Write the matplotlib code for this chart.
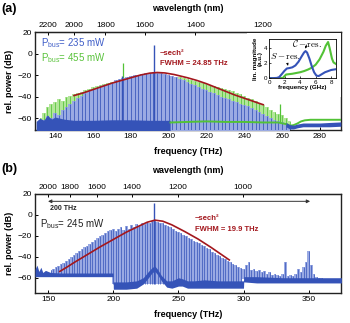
import numpy as np
import matplotlib
matplotlib.use("Agg")
import matplotlib.pyplot as plt
from matplotlib.patches import Rectangle

plt.rcParams['font.family'] = ['Liberation Sans', 'DejaVu Sans']
plt.rcParams['mathtext.fontset'] = 'custom'
plt.rcParams['mathtext.rm'] = 'Liberation Sans'
plt.rcParams['mathtext.it'] = 'Liberation Sans:italic'
plt.rcParams['mathtext.bf'] = 'Liberation Sans:bold'

C_NM_THZ = 299792.458

# ---------------- panel (a): two pump powers ----------------
comb_a_freq = np.arange(132, 266, 2)
blue_a_peak = [-63, -62, -58, -60, -55, -57, -52, -50, -47, -44,
               -41, -39, -37, -35, -33, -32, -30, -29, -28, -27,
               -25, -24, -23, -22, -21, -20, -19.5, -19, -18.5, -18,
               -17.5, -18, -18.5, -19, -20, -21, -22, -23.5, -25, -26.5,
               -28, -29.5, -31, -32.5, -34, -35.5, -37, -38.5, -40, -41,
               -42.5, -44, -45, -46.5, -48, -49, -50.5, -52, -54, -56,
               -58, -60, -62, -63, -64, -65, -66]
green_a_peak = [-60, -55, -50, -47, -45, -42, -44, -40, -39, -38,
                -37, -35.5, -34, -33, -31.5, -30.5, -29.5, -28.5, -27.5, -26.5,
                -25.5, -24.5, -23.5, -22.5, -21.5, -20.5, -19.8, -19.2, -18.7, -18.3,
                -18, -18.2, -18.6, -19.2, -20, -20.8, -21.5, -22.2, -23, -23.8,
                -24.6, -25.4, -26.2, -27, -28, -29, -30, -31, -32, -33,
                -34, -35, -36.5, -38, -39.5, -41, -42.5, -44, -46, -48,
                -50, -52, -54, -56, -57, -60, -63]
blue_a_spike_f = [175.5, 192.5]
blue_a_spike_db = [-21, 7.5]
green_a_spike_f = [176, 259]
green_a_spike_db = [-9, -47]

# noise floors (a)
floor_a_blue_f = [130, 132, 134, 136, 138, 140, 145, 150, 160, 170, 180, 190, 200.8]
floor_a_blue_top = [-63, -60, -62, -57, -61, -59, -61, -62, -62, -61.5, -61.5, -62, -62]
floor_a_right_f = [262, 264, 266, 268, 271, 275, 280, 285, 291]
floor_a_right_top = [-64, -66, -66.5, -65.5, -64.5, -64.5, -64.5, -64, -63.5]
floor_a_right_bot = [-68, -70, -70, -69, -68, -68, -68, -68, -67.5]
floor_a_green_f = [201, 210, 220, 230, 240, 250, 258, 262, 264, 266, 268, 270, 272, 275, 280, 285, 291]
floor_a_green_db = [-64, -63.5, -63, -63.5, -63.5, -64, -64, -65.5, -67, -66.5, -65, -63, -62,
                    -61.5, -61.5, -61.5, -61.5]

# sech^2 fit (a)
fit_a_f = [150, 155, 160, 165, 170, 175, 180, 185, 190, 194, 198, 203, 210, 215, 220, 225,
           230, 235, 240, 245, 250]
fit_a_db = [-39, -36.5, -33.5, -30.5, -27.5, -25, -22.5, -20, -18.2, -17.6, -18, -19.5,
            -22.5, -25, -28, -31.5, -35, -38.5, -41.5, -44.5, -47.5]

# inset: resonance response
inset_blue_f = [0, 0.5, 1, 1.3, 1.6, 2, 2.3, 2.6, 3, 3.4, 3.8, 4.2, 4.5, 4.7, 4.9, 5.2, 5.5,
                5.8, 6.1, 6.4, 6.8, 7.2, 7.6, 8, 8.6]
inset_blue_mag = [0.02, 0.02, 0.05, 0.15, 0.5, 1.0, 1.3, 1.35, 1.45, 1.7, 2.2, 2.9, 3.4, 3.6,
                  3.4, 2.6, 1.6, 0.8, 0.35, 0.3, 0.55, 0.8, 0.95, 1.1, 1.2]
inset_green_f = [0, 1, 1.8, 2.0, 2.2, 2.6, 3, 3.5, 4, 4.5, 5, 5.5, 6, 6.5, 7, 7.3, 7.6, 7.8,
                 8.1, 8.3, 8.6]
inset_green_mag = [0, 0.02, 0.05, 0.3, 0.5, 0.55, 0.6, 0.7, 0.8, 0.95, 1.15, 1.4, 1.8, 2.5,
                   3.5, 4.3, 4.8, 4.0, 2.6, 2.1, 1.9]

# ---------------- panel (b): single pump power ----------------
comb_b_freq = np.arange(152, 374, 2)
blue_b_peak = [-53, -52, -50, -49, -47, -46, -44, -42, -40, -38,
               -36, -34, -33, -31, -30, -28, -26, -24, -22, -20,
               -19, -17, -15, -14, -13, -15, -13, -12, -14, -11,
               -13, -10, -12, -9, -11, -8, -9, -7, -8, -6,
               -6, -7, -8, -8, -10, -11, -12, -13, -15, -16,
               -17, -19, -20, -22, -23, -25, -26, -27, -29, -30,
               -32, -33, -35, -36, -38, -39, -41, -42, -44, -45,
               -47, -48, -50, -51, -52, -48, -45, -53, -52, -54,
               -53, -55, -54, -56, -55, -57, -56, -57, -58, -56,
               -45, -58, -57, -58, -56, -52, -55, -50, -45, -34,
               -48, -56, -59, -60, -60, -61, -61, -61, -61, -61, -61]
pump_b_f = [231.5]
pump_b_db = [11]
base_b_edges = [200, 300]
base_b_levels = [-58, -66, -61]

floor_b_f = [140, 141.5, 143, 144.5, 146, 148, 152, 160, 170, 180, 190, 199.9, 200.1, 210,
             218, 223, 227, 230, 232, 234, 237, 241, 245, 250, 253, 257, 262, 270, 280, 290,
             299.9, 300.1, 310, 320, 330, 340, 350, 360, 375]
floor_b_top = [-52, -48, -54, -50, -55, -53, -55, -55.5, -55.5, -55.5, -55.5, -55.5, -64, -64,
               -63, -60, -54, -50, -49, -52, -58, -63, -63, -60, -61, -63, -63, -62, -63, -63,
               -63, -59, -59, -59.5, -60, -60, -60, -60, -60]
floor_b_bot = [-59, -59, -59, -59, -59, -59, -59, -59, -59, -59, -59, -59, -71, -71,
               -70, -66, -60, -55, -54, -57, -63, -69, -70, -68, -68, -70, -70, -70, -70, -70,
               -70, -64, -65, -65, -65, -65, -65, -65, -65]

fit_b_f = [159, 165, 170, 180, 190, 200, 210, 220, 226, 232, 238, 245, 255, 265, 275, 282, 289]
fit_b_db = [-54, -49.5, -45.5, -38, -30.5, -23.5, -16.5, -10.5, -7, -5, -6, -9.5, -16, -23,
            -31, -37, -43]

BLUE = '#3553b8'
BLUE_LT = '#9aaae3'
GREEN = '#52c236'
GREEN_LT = '#b3e69a'
RED = '#a3171d'


def thz_to_nm(f):
    f = np.asarray(f, dtype=float)
    with np.errstate(divide='ignore'):
        return C_NM_THZ / f


def style_axes(ax, wl_ticks):
    ax.tick_params(direction='in', labelsize=6, length=2.5, width=0.7, pad=2,
                   top=False, right=False)
    for s in ax.spines.values():
        s.set_linewidth(1.0)
        s.set_color('#222222')
    ax.set_xlabel('frequency (THz)', fontsize=6.5, fontweight='bold', labelpad=5)
    ax.set_ylabel('rel. power (dB)', fontsize=6.5, fontweight='bold', labelpad=3)
    ax.set_yticks([20, 0, -20, -40, -60])
    sec = ax.secondary_xaxis('top', functions=(thz_to_nm, thz_to_nm))
    sec.set_xticks(wl_ticks)
    sec.tick_params(direction='in', labelsize=6, length=2.5, width=0.7, pad=2)
    sec.set_xlabel('wavelength (nm)', fontsize=6.5, fontweight='bold', labelpad=8)
    return sec


fig = plt.figure(figsize=(3.5, 3.23), dpi=100)
ax_a = fig.add_axes([0.1, 0.5975, 0.8743, 0.3034])
ax_b = fig.add_axes([0.1, 0.0929, 0.8743, 0.3065])

# ---- panel (a)
ax_a.fill_between(comb_a_freq, -75, green_a_peak, step='mid', color=GREEN_LT, lw=0, zorder=1)
ax_a.vlines(comb_a_freq, -75, green_a_peak, color=GREEN, lw=0.55, zorder=2)
ax_a.vlines(green_a_spike_f, -75, green_a_spike_db, color=GREEN, lw=0.9, zorder=2)
ax_a.fill_between(comb_a_freq, -75, blue_a_peak, step='mid', color=BLUE_LT, lw=0, zorder=3)
ax_a.vlines(comb_a_freq, -75, blue_a_peak, color=BLUE, lw=0.55, zorder=4)
ax_a.vlines(blue_a_spike_f, -75, blue_a_spike_db, color=BLUE, lw=1.0, zorder=4)
ax_a.fill_between(floor_a_blue_f, -75, floor_a_blue_top, color=BLUE, lw=0, zorder=5)
ax_a.plot(floor_a_green_f, floor_a_green_db, color=GREEN, lw=1.4, zorder=5)
ax_a.fill_between(floor_a_right_f, floor_a_right_bot, floor_a_right_top, color=BLUE, lw=0, zorder=6)
ax_a.plot(fit_a_f, fit_a_db, color=RED, lw=1.2, zorder=7)
ax_a.set_xlim(129.4, 291.1)
ax_a.set_ylim(-71, 20)
ax_a.set_xticks([140, 160, 180, 200, 220, 240, 260, 280])
style_axes(ax_a, [2200, 2000, 1800, 1600, 1400, 1200])

ax_a.text(132.5, 10, r'P$_{\mathrm{bus}}$= 235 mW', color='#3d5cc7', fontsize=7, va='center', zorder=8)
ax_a.text(132.5, -4.5, r'P$_{\mathrm{bus}}$= 455 mW', color='#58c23a', fontsize=7, va='center', zorder=8)
ax_a.text(195.5, 0.5, '~sech²', color=RED, fontsize=5.5, fontweight='bold', va='center', zorder=8)
ax_a.text(195.5, -9.2, 'FWHM = 24.85 THz', color=RED, fontsize=5.5, fontweight='bold',
          va='center', zorder=8)

# white box behind inset
ax_a.add_patch(Rectangle((0.705, 0.7006), 0.268, 0.197, transform=fig.transFigure,
                         facecolor='white', edgecolor='none', zorder=9))

ax_in = fig.add_axes([0.7686, 0.7576, 0.191, 0.1217])
ax_in.plot(inset_green_f, inset_green_mag, color=GREEN, lw=1.5)
ax_in.plot(inset_blue_f, inset_blue_mag, color=BLUE, lw=1.5)
ax_in.set_xlim(0, 8.6)
ax_in.set_ylim(0, 5.2)
ax_in.set_xticks([0, 2, 4, 6, 8])
ax_in.set_yticks([0, 2, 4])
ax_in.tick_params(direction='in', labelsize=4.5, length=1.5, width=0.5, pad=1)
for s in ax_in.spines.values():
    s.set_linewidth(0.6)
ax_in.set_xlabel('frequency (GHz)', fontsize=4.5, fontweight='bold', labelpad=0.5)
ax_in.set_ylabel('lin. magnitude\n(a.u.)', fontsize=4.5, fontweight='bold', labelpad=1,
                 linespacing=1.0)
ax_in.annotate(r'$\mathcal{C}-\mathrm{res.}$', xy=(4.6, 3.75), xytext=(3.0, 4.6),
               fontsize=6.5, math_fontfamily='cm', va='center',
               arrowprops=dict(arrowstyle='-|>', lw=0.5, color='black', mutation_scale=3,
                               shrinkA=1, shrinkB=1))
ax_in.annotate(r'$S-\mathrm{res.}$', xy=(2.5, 1.5), xytext=(0.1, 3.0),
               fontsize=6.5, math_fontfamily='cm', va='center',
               arrowprops=dict(arrowstyle='-|>', lw=0.5, color='black', mutation_scale=3,
                               shrinkA=1, shrinkB=1))

# ---- panel (b)
comb_b_base = np.select([comb_b_freq < base_b_edges[0], comb_b_freq < base_b_edges[1]],
                        base_b_levels[:2], base_b_levels[2])
ax_b.fill_between(comb_b_freq, comb_b_base, blue_b_peak, step='mid', color=BLUE_LT, lw=0, zorder=1)
ax_b.vlines(comb_b_freq, comb_b_base, blue_b_peak, color=BLUE, lw=0.5, zorder=2)
ax_b.vlines(pump_b_f, -66, pump_b_db, color=BLUE, lw=1.0, zorder=2)
ax_b.fill_between(floor_b_f, floor_b_bot, floor_b_top, color=BLUE, lw=0, zorder=3)
ax_b.plot(fit_b_f, fit_b_db, color=RED, lw=1.2, zorder=4)
ax_b.set_xlim(140, 374.7)
ax_b.set_ylim(-74.6, 20)
ax_b.set_xticks([150, 200, 250, 300, 350])
style_axes(ax_b, [2000, 1800, 1600, 1400, 1200, 1000, 800])

ax_b.annotate('', xy=(150, 13), xytext=(351, 13),
              arrowprops=dict(arrowstyle='<|-|>', lw=0.7, color='#333333', mutation_scale=5,
                              shrinkA=0, shrinkB=0))
ax_b.text(151.5, 6.5, '200 THz', fontsize=5, fontweight='bold', va='center', color='#222222')
ax_b.text(143.8, -9, r'P$_{\mathrm{bus}}$= 245 mW', color='#222222', fontsize=7, va='center')
ax_b.text(262.5, -3.3, '~sech²', color=RED, fontsize=5.5, fontweight='bold', va='center')
ax_b.text(262.5, -14.4, 'FWHM = 19.9 THz', color=RED, fontsize=5.5, fontweight='bold', va='center')

fig.text(0.005, 0.99, '(a)', fontsize=9, fontweight='bold', va='top', ha='left')
fig.text(0.005, 0.495, '(b)', fontsize=9, fontweight='bold', va='top', ha='left')

fig.savefig('out.png', dpi=100)
